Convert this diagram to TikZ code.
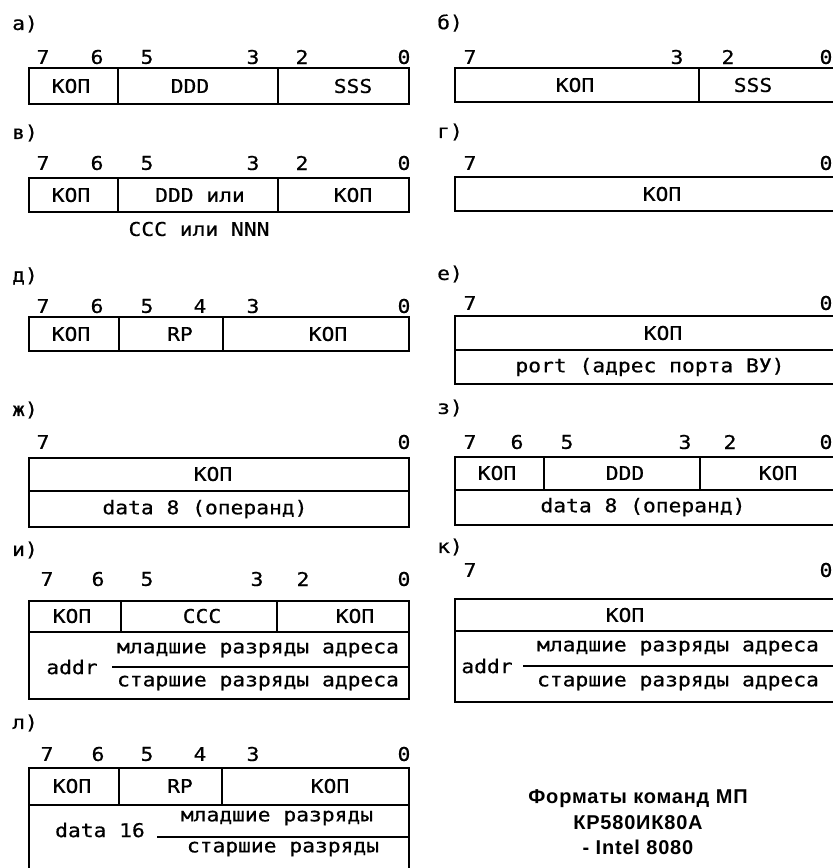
\documentclass[tikz,border=0pt]{standalone}
\usepackage{fontspec}
\newfontfamily\plotfont[FakeStretch=1.12,FakeBold=0.6]{DejaVu Sans Mono}
\newfontfamily\titlefont[LetterSpace=4]{Liberation Sans}
\begin{document}
\begin{tikzpicture}[x=1pt,y=-1pt,
  txt/.style={font=\plotfont\fontsize{19}{19}\selectfont, inner sep=0pt, anchor=center},
  lbl/.style={font=\plotfont\fontsize{19}{19}\selectfont, inner sep=0pt, anchor=west},
  ttl/.style={font=\titlefont\bfseries\fontsize{20}{22}\selectfont, inner sep=0pt, anchor=center},
  frame/.style={line width=2pt, line join=miter}]
\useasboundingbox (0,0) rectangle (833,868);
\begin{scope}
\clip (0,0) rectangle (833,868);

% ---------- a)
\node[lbl] (la) at (12,24) {а)};
\foreach \x/\t [count=\i] in {43/7,97/6,147/5,253/3,302/2,404/0}
  \node[txt] (ab\i) at (\x,57) {\t};
\draw[frame] (29,68) rectangle (409,104);
\draw[frame] (118,68) -- (118,104) (278,68) -- (278,104);
\node[txt] (a1) at (71,86) {КОП};
\node[txt] (a2) at (190,86) {DDD};
\node[txt] (a3) at (353,86) {SSS};

% ---------- б)
\node[lbl] (lb) at (437,23) {б)};
\foreach \x/\t [count=\i] in {470/7,677/3,728/2,826/0}
  \node[txt] (bb\i) at (\x,57) {\t};
\draw[frame] (455,68) rectangle (840,102);
\draw[frame] (699,68) -- (699,102);
\node[txt] (b1) at (575,85) {КОП};
\node[txt] (b2) at (753,85) {SSS};

% ---------- в)
\node[lbl] (lv) at (12,133) {в)};
\foreach \x/\t [count=\i] in {43/7,97/6,147/5,253/3,302/2,404/0}
  \node[txt] (vb\i) at (\x,163) {\t};
\draw[frame] (29,178) rectangle (409,212);
\draw[frame] (118,178) -- (118,212) (278,178) -- (278,212);
\node[txt] (v1) at (71,195) {КОП};
\node[txt] (v2) at (200,195) {DDD или};
\node[txt] (v3) at (353,195) {КОП};
\node[txt] (v4) at (199,229) {CCC или NNN};

% ---------- г)
\node[lbl] (lg) at (437,132) {г)};
\node[txt] (gb1) at (470,163) {7};
\node[txt] (gb2) at (826,163) {0};
\draw[frame] (455,177) rectangle (840,211);
\node[txt] (g1) at (662,194) {КОП};

% ---------- д)
\node[lbl] (ld) at (12,276) {д)};
\foreach \x/\t [count=\i] in {43/7,97/6,147/5,200/4,253/3,404/0}
  \node[txt] (db\i) at (\x,306) {\t};
\draw[frame] (29,317) rectangle (409,351);
\draw[frame] (119,317) -- (119,351) (223,317) -- (223,351);
\node[txt] (d1) at (71,334) {КОП};
\node[txt] (d2) at (180,334) {RP};
\node[txt] (d3) at (328,334) {КОП};

% ---------- е)
\node[lbl] (le) at (437,274) {е)};
\node[txt] (eb1) at (470,303) {7};
\node[txt] (eb2) at (826,303) {0};
\draw[frame] (455,316) rectangle (840,384);
\draw[frame] (455,350) -- (840,350);
\node[txt] (e1) at (663,333) {КОП};
\node[txt] (e2) at (650,367) {port (адрес порта ВУ)};

% ---------- ж)
\node[lbl] (lzh) at (12,410) {ж)};
\node[txt] (zhb1) at (43,442) {7};
\node[txt] (zhb2) at (404,442) {0};
\draw[frame] (29,458) rectangle (409,527);
\draw[frame] (29,491) -- (409,491);
\node[txt] (zh1) at (213,474) {КОП};
\node[txt] (zh2) at (205,509) {data 8 (операнд)};

% ---------- з)
\node[lbl] (lz) at (437,408) {з)};
\foreach \x/\t [count=\i] in {470/7,517/6,567/5,685/3,730/2,826/0}
  \node[txt] (zb\i) at (\x,442) {\t};
\draw[frame] (455,457) rectangle (840,525);
\draw[frame] (455,490) -- (840,490);
\draw[frame] (544,457) -- (544,490) (700,457) -- (700,490);
\node[txt] (z1) at (497,473) {КОП};
\node[txt] (z2) at (625,473) {DDD};
\node[txt] (z3) at (778,473) {КОП};
\node[txt] (z4) at (643,507) {data 8 (операнд)};

% ---------- и)
\node[lbl] (li) at (12,550) {и)};
\foreach \x/\t [count=\i] in {47/7,98/6,147/5,257/3,303/2,404/0}
  \node[txt] (ib\i) at (\x,579) {\t};
\draw[frame] (29,601) rectangle (409,699);
\draw[frame] (29,632) -- (409,632);
\draw[frame] (121,601) -- (121,632) (277,601) -- (277,632);
\node[txt] (i1) at (72,616) {КОП};
\node[txt] (i2) at (202,616) {CCC};
\node[txt] (i3) at (355,616) {КОП};
\node[txt] (iaddr) at (72,667) {addr};
\coordinate (iL) at (112,667);
\coordinate (iR) at (409,667);
\draw[frame] (iL) -- (iR);
\node[txt] (i4) at (258,650) {младшие разряды адреса};
\node[txt] (i5) at (258,683) {старшие разряды адреса};

% ---------- к)
\node[lbl] (lk) at (437,547) {к)};
\node[txt] (kb1) at (470,570) {7};
\node[txt] (kb2) at (826,570) {0};
\draw[frame] (455,599) rectangle (840,702);
\draw[frame] (455,631) -- (840,631);
\node[txt] (k1) at (625,615) {КОП};
\node[txt] (kaddr) at (487,666) {addr};
\coordinate (kL) at (523,666);
\coordinate (kR) at (840,666);
\draw[frame] (kL) -- (kR);
\node[txt] (k4) at (678,648) {младшие разряды адреса};
\node[txt] (k5) at (678,683) {старшие разряды адреса};

% ---------- л)
\node[lbl] (ll) at (12,723) {л)};
\foreach \x/\t [count=\i] in {47/7,98/6,147/5,200/4,253/3,404/0}
  \node[txt] (lb\i) at (\x,754) {\t};
\draw[frame] (29,768) rectangle (409,900);
\draw[frame] (29,805) -- (409,805);
\draw[frame] (119,768) -- (119,805) (222,768) -- (222,805);
\node[txt] (l1) at (72,786) {КОП};
\node[txt] (l2) at (180,786) {RP};
\node[txt] (l3) at (330,786) {КОП};
\node[txt] (ldata) at (100,830) {data 16};
\coordinate (lL) at (157,837);
\coordinate (lR) at (409,837);
\draw[frame] (lL) -- (lR);
\node[txt] (l4) at (277,818) {младшие разряды};
\node[txt] (l5) at (283,849) {старшие разряды};

% ---------- title
\node[ttl] (t1) at (638,799) {Форматы команд МП};
\node[ttl] (t2) at (638,823) {КР580ИК80А};
\node[ttl] (t3) at (638,847) {- Intel 8080};
\end{scope}
\end{tikzpicture}
\end{document}
